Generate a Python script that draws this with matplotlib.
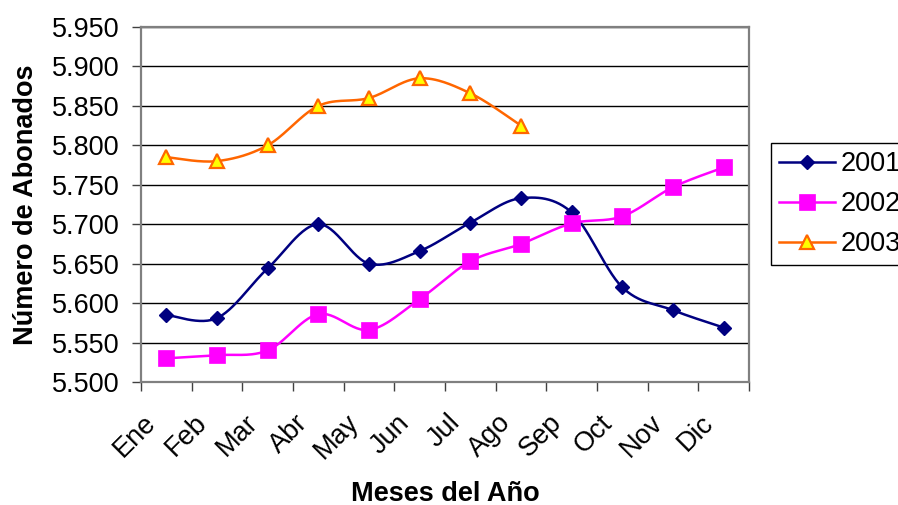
import numpy as np
import matplotlib
matplotlib.use("Agg")
import matplotlib.pyplot as plt
from matplotlib.transforms import ScaledTranslation

months = ["Ene", "Feb", "Mar", "Abr", "May", "Jun", "Jul", "Ago", "Sep", "Oct", "Nov", "Dic"]
s2001 = [5585, 5581, 5644, 5700, 5650, 5666, 5702, 5733, 5715, 5620, 5591, 5569]
s2002 = [5530, 5534, 5540, 5586, 5566, 5605, 5653, 5675, 5701, 5710, 5747, 5772]
s2003 = [5785, 5780, 5800, 5850, 5860, 5885, 5866, 5825]
yticks = [5500, 5550, 5600, 5650, 5700, 5750, 5800, 5850, 5900, 5950]
ytick_labels = ["5.500", "5.550", "5.600", "5.650", "5.700", "5.750", "5.800", "5.850", "5.900", "5.950"]

plt.rcParams['font.family'] = ['Liberation Sans', 'DejaVu Sans']
FS = 19.5


def smooth(xs, ys, n=30):
    xs = np.asarray(xs, float)
    ys = np.asarray(ys, float)
    P = np.column_stack([xs, ys])
    m = len(P)
    out = []
    for i in range(m - 1):
        p0 = P[i - 1] if i > 0 else P[i]
        p1 = P[i]
        p2 = P[i + 1]
        p3 = P[i + 2] if i + 2 < m else P[i + 1]
        c1 = p1 + (p2 - p0) / 6.0
        c2 = p2 - (p3 - p1) / 6.0
        t = np.linspace(0, 1, n)[:, None]
        seg = ((1 - t) ** 3) * p1 + 3 * ((1 - t) ** 2) * t * c1 + 3 * (1 - t) * t ** 2 * c2 + t ** 3 * p2
        out.append(seg if i == 0 else seg[1:])
    seg = np.vstack(out)
    return seg[:, 0], seg[:, 1]


fig = plt.figure(figsize=(8.98, 5.05), dpi=100)
ax = fig.add_axes([141 / 898, 1 - 382 / 505, (749 - 141) / 898, (382 - 27) / 505])

series = [
    ("2001", s2001, dict(color="#000080", marker="D", ms=7.5, mfc="#000080", mec="#000080", mew=1)),
    ("2002", s2002, dict(color="#FF00FF", marker="s", ms=11, mfc="#FF00FF", mec="#FF00FF", mew=0.5)),
    ("2003", s2003, dict(color="#FF6600", marker="^", ms=10, mfc="#FFFF00", mec="#FF6600", mew=1.6)),
]

handles = []
for name, vals, st in series:
    x = np.arange(len(vals))
    sx, sy = smooth(x, vals)
    ax.plot(sx, sy, color=st["color"], lw=1.8, zorder=3, solid_capstyle="round")
    ax.plot(x, vals, linestyle="none", marker=st["marker"], ms=st["ms"], mfc=st["mfc"],
            mec=st["mec"], mew=st["mew"], zorder=4)
    h, = ax.plot([], [], color=st["color"], lw=1.8, marker=st["marker"], ms=st["ms"],
                 mfc=st["mfc"], mec=st["mec"], mew=st["mew"], label=name)
    handles.append(h)

ax.set_xlim(-0.5, len(months) - 0.5)
ax.set_ylim(yticks[0], yticks[-1])
ax.set_yticks(yticks)
ax.set_yticklabels(ytick_labels, fontsize=FS)
ax.yaxis.grid(True, color="black", lw=1.0)
ax.set_axisbelow(True)

ax.set_xticks(np.arange(len(months)))
ax.set_xticklabels(months, fontsize=FS, rotation=45, ha="right", va="top")
ax.set_xticks(np.arange(-0.5, len(months)), minor=True)
ax.tick_params(axis="x", which="major", length=0, pad=20)
ax.tick_params(axis="x", which="minor", length=6.5, width=1, color="#404040", direction="out")
ax.tick_params(axis="y", length=6.5, width=1, color="#404040", direction="out", pad=9)
offset = ScaledTranslation(-3.5 / 72, 0, fig.dpi_scale_trans)
for lab in ax.get_xticklabels():
    lab.set_transform(lab.get_transform() + offset)

for sp in ax.spines.values():
    sp.set_color("#808080")
    sp.set_linewidth(1.6)

ax.set_xlabel("Meses del Año", fontsize=FS, fontweight="bold")
ax.xaxis.set_label_coords(0.5, -0.278)
ax.set_ylabel("Número de Abonados", fontsize=FS, fontweight="bold")
ax.yaxis.set_label_coords(-0.168, 0.5)

leg = ax.legend(handles=handles, loc="upper left", bbox_to_anchor=(771 / 898, 1 - 143 / 505),
                bbox_transform=fig.transFigure, fontsize=FS, frameon=True, fancybox=False,
                edgecolor="black", framealpha=1, handlelength=2.05, handletextpad=0.22,
                borderpad=0.3, labelspacing=0.52, borderaxespad=0)
leg.get_frame().set_linewidth(1.0)

fig.savefig("out.png", dpi=100)
